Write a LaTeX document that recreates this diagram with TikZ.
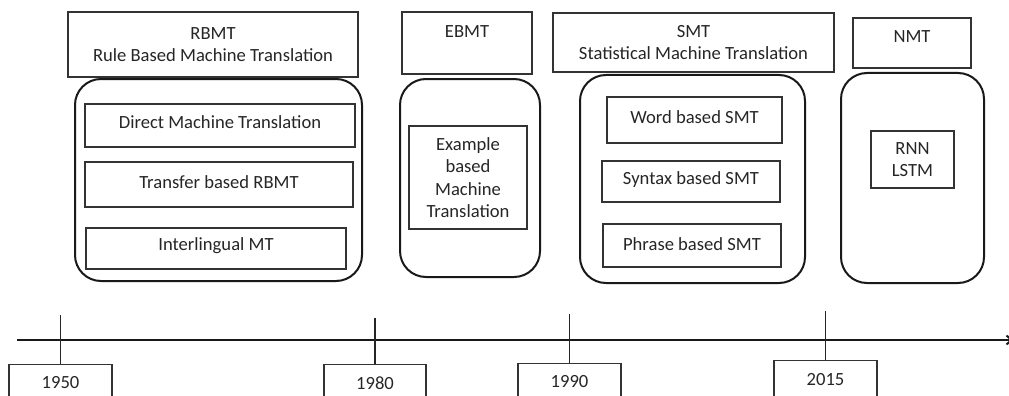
\documentclass[tikz,border=0pt]{standalone}
\usepackage{fontspec}
\setmainfont{Carlito}
\usetikzlibrary{arrows.meta}
\tikzset{
  txt/.style={font=\fontsize{18.6}{22.5}\selectfont, text=black!85, align=center, inner sep=0pt},
  sqbox/.style={draw=black!80, line width=1.2pt, inner sep=0pt, txt},
  rndbox/.style={draw=black!90, line width=2pt, rounded corners=26pt, inner sep=0pt},
  tick/.style={draw=black!85, line width=1.2pt},
  axis/.style={draw=black!90, line width=2pt}
}
\begin{document}
\begin{tikzpicture}[x=1pt,y=-1pt]
\useasboundingbox (0,0) rectangle (1009,396);
% RBMT
\node[sqbox, minimum width=290pt, minimum height=65pt] (rbmth) at (213,44.5) {RBMT\\Rule Based Machine Translation};
\node[rndbox, minimum width=287pt, minimum height=202pt] (rbmtr) at (218.5,180) {};
\node[sqbox, minimum width=270pt, minimum height=43pt] (dmt) at (220,125.5) {};
\node[txt] (dmtt) at (220,122) {Direct Machine Translation};
\node[sqbox, minimum width=268pt, minimum height=45pt] (tb) at (219,184.5) {};
\node[txt] (tbt) at (219,182) {Transfer based RBMT};
\node[sqbox, minimum width=260pt, minimum height=41pt] (il) at (216,248.5) {};
\node[txt] (ilt) at (216,246) {Interlingual MT};
% EBMT
\node[sqbox, minimum width=130pt, minimum height=62pt] (ebmth) at (467,43) {};
\node[txt] (ebmtt) at (467,32) {EBMT};
\node[rndbox, minimum width=140pt, minimum height=198pt] (ebmtr) at (470,178) {};
\node[sqbox, minimum width=118pt, minimum height=103pt] (ex) at (468,177.5) {Example\\based\\Machine\\Translation};
% SMT
\node[sqbox, minimum width=281pt, minimum height=59pt] (smth) at (693.5,42.5) {SMT\\Statistical Machine Translation};
\node[rndbox, minimum width=225pt, minimum height=208pt] (smtr) at (692.5,179) {};
\node[sqbox, minimum width=175pt, minimum height=46pt] (wb) at (694.5,120) {};
\node[txt] (wbt) at (694.5,117) {Word based SMT};
\node[sqbox, minimum width=178pt, minimum height=41pt] (sb) at (691,181.5) {};
\node[txt] (sbt) at (691,180) {Syntax based SMT};
\node[sqbox, minimum width=178pt, minimum height=43pt] (pb) at (692,245.5) {};
\node[txt] (pbt) at (692,244) {Phrase based SMT};
% NMT
\node[sqbox, minimum width=118pt, minimum height=50pt] (nmth) at (912,43) {};
\node[txt] (nmtt) at (912,37) {NMT};
\node[rndbox, minimum width=143pt, minimum height=210pt] (nmtr) at (912.5,178) {};
\node[sqbox, minimum width=83pt, minimum height=57pt] (rnn) at (912.5,159.5) {RNN\\LSTM};
% timeline
\coordinate (axs) at (17,340);
\coordinate (axe) at (1013,340);
\draw[axis, -{Straight Barb[length=5pt,width=9pt]}] (axs) -- (axe);
\node[sqbox, anchor=north, minimum width=103pt, minimum height=46pt] (y1950) at (60.5,364) {};
\node[txt] (y1950t) at (60.5,383) {1950};
\node[sqbox, anchor=north, minimum width=102pt, minimum height=46pt] (y1980) at (375,364) {};
\node[txt] (y1980t) at (375,383) {1980};
\node[sqbox, anchor=north, minimum width=103pt, minimum height=46pt] (y1990) at (569.5,363) {};
\node[txt] (y1990t) at (569.5,382) {1990};
\node[sqbox, anchor=north, minimum width=103pt, minimum height=46pt] (y2015) at (825.5,360) {};
\node[txt] (y2015t) at (825.5,380) {2015};
\coordinate (k1950) at (60.5,315);
\coordinate (k1980) at (375,318);
\coordinate (k1990) at (569.5,314);
\coordinate (k2015) at (825.5,311);
\draw[tick] (k1950) -- (y1950.north);
\draw[tick] (k1980) -- (y1980.north);
\draw[tick] (k1990) -- (y1990.north);
\draw[tick] (k2015) -- (y2015.north);
\end{tikzpicture}
\end{document}
